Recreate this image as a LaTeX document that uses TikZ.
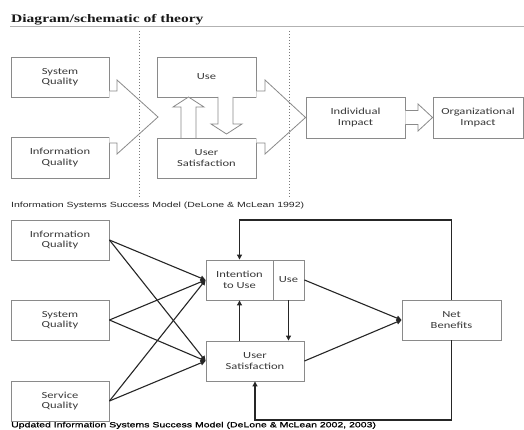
\documentclass[tikz,border=0pt]{standalone}
\usepackage{fontspec}
\usetikzlibrary{arrows.meta,calc}
\newfontfamily\boxfont[FakeStretch=1.35]{Carlito}
\newfontfamily\capfont[FakeStretch=1.4]{Liberation Sans}
\newfontfamily\capboldfont[FakeStretch=1.4,FakeBold=0.8]{Liberation Sans}
\newfontfamily\titlefont[FakeStretch=1.35]{Liberation Serif}
\definecolor{boxline}{HTML}{8A8A8A}
\definecolor{boxtext}{HTML}{383838}
\definecolor{dotline}{HTML}{7A7A7A}
\tikzset{
  topbox/.style={draw=boxline, line width=0.9pt, fill=white, align=center, inner sep=0pt,
    text=boxtext, font=\boxfont\fontsize{9.3}{10.5}\selectfont},
  blockarrow/.style={draw=boxline, line width=0.8pt, fill=white, line join=miter},
  botbox/.style={draw=boxline, line width=0.9pt, fill=white, align=center, inner sep=0pt,
    text=boxtext, font=\boxfont\fontsize{9.3}{10.5}\selectfont},
  conn/.style={draw=black!85, line width=1.1pt, -{Triangle[length=5pt,width=5pt]}},
  divider/.style={draw=dotline, line width=1pt, dotted},
}
\begin{document}
\begin{tikzpicture}[x=1pt,y=-1pt]
\useasboundingbox (0,0) rectangle (524,430);
\fill[white] (0,0) rectangle (524,430);

% title
\node[anchor=base west, inner sep=0pt, text=black!90, font=\titlefont\bfseries\fontsize{11.5}{13}\selectfont] (title) at (11,22.5) {Diagram/schematic of theory};
\draw[draw=black!30, line width=0.8pt] (10,26.5) -- (524,26.5);

% top diagram boxes
\node[topbox, minimum width=98pt, minimum height=40pt] (sq1) at (60,77) {System\\Quality};
\node[topbox, minimum width=98pt, minimum height=41pt] (iq1) at (60,157.5) {Information\\Quality};
\node[topbox, minimum width=99pt, minimum height=40pt] (use1) at (206.5,77) {Use};
\node[topbox, minimum width=99pt, minimum height=40pt] (us1) at (206.5,158) {User\\Satisfaction};
\node[topbox, minimum width=99pt, minimum height=41pt] (ii) at (355.5,117.5) {Individual\\Impact};
\node[topbox, minimum width=90pt, minimum height=41pt] (oi) at (478,117.5) {Organizational\\Impact};

% combined block arrows
\draw[blockarrow] (sq1.east |- 0,91) -- (117,91) -- (117,80) -- (158,117) -- (117,154) -- (117,143) -- (iq1.east |- 0,143);
\draw[blockarrow] (use1.east |- 0,91) -- (265,91) -- (265,80) -- (ii.west) -- (265,154) -- (265,143) -- (us1.east |- 0,143);
% small arrow between impacts
\draw[blockarrow] (ii.east |- 0,110.5) -- (418,110.5) -- (418,104) -- (oi.west) -- (418,131) -- (418,124.5) -- (ii.east |- 0,124.5);
% up arrow (satisfaction -> use)
\draw[blockarrow] (181,138) -- (181,107) -- (173,107) -- (188.5,97) -- (204,107) -- (196,107) -- (196,138);
% down arrow (use -> satisfaction)
\draw[blockarrow] (218,97) -- (218,124) -- (211,124) -- (226.5,134) -- (242,124) -- (233,124) -- (233,97);

% dotted dividers (on top of the block arrows)
\coordinate (d1t) at (139,31); \coordinate (d1b) at (139,197);
\coordinate (d2t) at (289,31); \coordinate (d2b) at (289,197);
\draw[divider] (d1t) -- (d1b);
\draw[divider] (d2t) -- (d2b);

% caption 1
\node[anchor=base west, inner sep=0pt, text=black!85, font=\capfont\fontsize{7.5}{9}\selectfont] (cap1) at (11,207.3) {Information Systems Success Model (DeLone \& McLean 1992)};

% bottom diagram boxes
\node[botbox, minimum width=98pt, minimum height=40pt] (iq2) at (60,240) {Information\\Quality};
\node[botbox, minimum width=98pt, minimum height=40pt] (sq2) at (60,320) {System\\Quality};
\node[botbox, minimum width=98pt, minimum height=40pt] (svq) at (60,401) {Service\\Quality};
\node[botbox, minimum width=67pt, minimum height=40pt] (itu) at (239.5,280) {Intention\\to Use};
\node[botbox, minimum width=31pt, minimum height=40pt] (use2) at (288.5,280) {Use};
\node[botbox, minimum width=98pt, minimum height=40pt] (us2) at (255,361) {User\\Satisfaction};
\node[botbox, minimum width=99pt, minimum height=40pt] (nb) at (451.5,320) {Net\\Benefits};

% connectors
\foreach \s in {iq2,sq2,svq}{
  \draw[conn] (\s.east) -- (itu.west);
  \draw[conn] (\s.east) -- (us2.west);
}
\draw[conn] (use2.east) -- (nb.west);
\draw[conn] (us2.east) -- (nb.west);
\draw[conn] (itu.south |- us2.north) -- (itu.south);
\draw[conn] (use2.south) -- (use2.south |- us2.north);
\draw[conn] (nb.north) -- (nb.north |- 0,220) -| (itu.north);
\draw[conn] (nb.south) -- (nb.south |- 0,420) -| (us2.south);

% caption 2
\node[anchor=base west, inner sep=0pt, text=black, font=\capboldfont\fontsize{7.5}{9}\selectfont] (cap2) at (11,427.3) {Updated Information Systems Success Model (DeLone \& McLean 2002, 2003)};
\end{tikzpicture}
\end{document}
